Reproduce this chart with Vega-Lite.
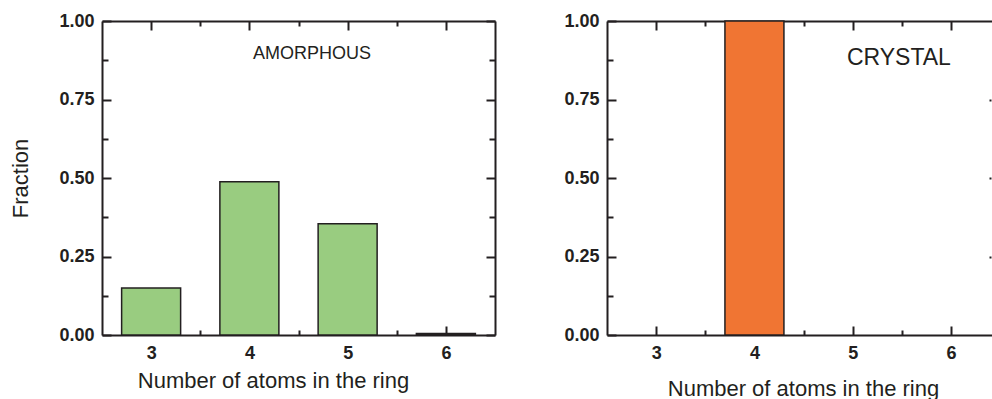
{
  "$schema": "https://vega.github.io/schema/vega-lite/v6.json",
  "padding": {"left": 9, "top": 12, "right": 0, "bottom": 0},
  "background": "white",
  "config": {
    "view": {"stroke": null},
    "font": "Liberation Sans",
    "scale": {"continuousPadding": 0},
    "axis": {
      "grid": false,
      "domainColor": "#231f20",
      "domainWidth": 2,
      "tickColor": "#231f20",
      "tickWidth": 2,
      "labelFont": "Liberation Sans",
      "labelFontWeight": "bold",
      "labelFontSize": 18,
      "labelColor": "#231f20",
      "titleFont": "Liberation Sans",
      "titleFontWeight": "normal",
      "titleFontSize": 22,
      "titleColor": "#231f20"
    }
  },
  "spacing": 67,
  "hconcat": [
    {
      "width": 393,
      "height": 314,
      "data": {"values": [
        {"n": 3, "fraction": 0.15},
        {"n": 4, "fraction": 0.488},
        {"n": 5, "fraction": 0.354},
        {"n": 6, "fraction": 0.005}
      ]},
      "resolve": {"axis": {"x": "independent", "y": "independent"}},
      "layer": [
        {
          "mark": {"type": "bar", "orient": "vertical", "size": 59, "fill": "#99cc80", "stroke": "#231f20", "strokeWidth": 1.5},
          "encoding": {
            "x": {"field": "n", "type": "quantitative", "scale": {"domain": [2.5, 6.5], "nice": false, "zero": false, "padding": 0},
              "axis": {"orient": "bottom", "values": [3, 4, 5, 6], "format": "d", "tickSize": -9, "labelPadding": 18, "title": "Number of atoms in the ring", "titlePadding": 8, "titleX": 171}},
            "y": {"field": "fraction", "type": "quantitative", "scale": {"domain": [0, 1], "nice": false},
              "axis": {"orient": "left", "values": [0, 0.25, 0.5, 0.75, 1], "format": ".2f", "tickSize": -9, "labelPadding": 17, "title": "Fraction", "titlePadding": 26}}
          }
        },
        {
          "data": {"values": [{"label": "AMORPHOUS", "x": 4.637, "y": 0.895}]},
          "mark": {"type": "text", "fontSize": 18, "font": "Liberation Sans", "color": "#231f20", "baseline": "middle", "align": "center"},
          "encoding": {
            "text": {"field": "label"},
            "x": {"field": "x", "type": "quantitative", "scale": {"domain": [2.5, 6.5], "nice": false, "zero": false, "padding": 0},
              "axis": {"orient": "top", "values": [3, 4, 5, 6], "tickSize": -9, "labels": false, "title": null}},
            "y": {"field": "y", "type": "quantitative", "scale": {"domain": [0, 1], "nice": false},
              "axis": {"orient": "right", "values": [0, 0.25, 0.5, 0.75, 1], "tickSize": -9, "labels": false, "title": null}}
          }
        },
        {
          "mark": {"type": "point", "opacity": 0},
          "encoding": {
            "x": {"field": "n", "type": "quantitative", "scale": {"domain": [2.5, 6.5], "nice": false, "zero": false, "padding": 0},
              "axis": {"orient": "bottom", "values": [3.5, 4.5, 5.5], "tickSize": -5, "labels": false, "domain": false, "title": null}},
            "y": {"field": "fraction", "type": "quantitative", "scale": {"domain": [0, 1], "nice": false},
              "axis": {"orient": "left", "values": [0.125, 0.375, 0.625, 0.875], "tickSize": -6, "labels": false, "domain": false, "title": null}}
          }
        },
        {
          "mark": {"type": "point", "opacity": 0},
          "encoding": {
            "x": {"field": "n", "type": "quantitative", "scale": {"domain": [2.5, 6.5], "nice": false, "zero": false, "padding": 0},
              "axis": {"orient": "top", "values": [3.5, 4.5, 5.5], "tickSize": -5, "labels": false, "domain": false, "title": null}},
            "y": {"field": "fraction", "type": "quantitative", "scale": {"domain": [0, 1], "nice": false},
              "axis": {"orient": "right", "values": [0.125, 0.375, 0.625, 0.875], "tickSize": -6, "labels": false, "domain": false, "title": null}}
          }
        }
      ]
    },
    {
      "width": 385,
      "height": 314,
      "data": {"values": [
        {"n": 4, "fraction": 1.0}
      ]},
      "resolve": {"axis": {"x": "independent", "y": "independent"}},
      "layer": [
        {
          "mark": {"type": "bar", "orient": "vertical", "size": 59, "fill": "#f07533", "stroke": "#231f20", "strokeWidth": 1.5},
          "encoding": {
            "x": {"field": "n", "type": "quantitative", "scale": {"domain": [2.5, 6.417], "nice": false, "zero": false, "padding": 0},
              "axis": {"orient": "bottom", "values": [3, 4, 5, 6], "format": "d", "tickSize": -9, "labelPadding": 18, "title": "Number of atoms in the ring", "titlePadding": 16, "titleX": 196}},
            "y": {"field": "fraction", "type": "quantitative", "scale": {"domain": [0, 1], "nice": false},
              "axis": {"orient": "left", "values": [0, 0.25, 0.5, 0.75, 1], "format": ".2f", "tickSize": -9, "labelPadding": 17, "title": null}}
          }
        },
        {
          "data": {"values": [{"label": "CRYSTAL", "x": 5.47, "y": 0.883}]},
          "mark": {"type": "text", "fontSize": 23, "font": "Liberation Sans", "color": "#231f20", "baseline": "middle", "align": "center"},
          "encoding": {
            "text": {"field": "label"},
            "x": {"field": "x", "type": "quantitative", "scale": {"domain": [2.5, 6.417], "nice": false, "zero": false, "padding": 0},
              "axis": {"orient": "top", "values": [3, 4, 5, 6], "tickSize": -9, "labels": false, "title": null}},
            "y": {"field": "y", "type": "quantitative", "scale": {"domain": [0, 1], "nice": false},
              "axis": {"orient": "right", "values": [0.25, 0.5, 0.75], "tickSize": -2, "offset": -1, "domain": false, "labels": false, "title": null}}
          }
        },
        {
          "mark": {"type": "point", "opacity": 0},
          "encoding": {
            "x": {"field": "n", "type": "quantitative", "scale": {"domain": [2.5, 6.417], "nice": false, "zero": false, "padding": 0},
              "axis": {"orient": "bottom", "values": [3.5, 4.5, 5.5], "tickSize": -5, "labels": false, "domain": false, "title": null}},
            "y": {"field": "fraction", "type": "quantitative", "scale": {"domain": [0, 1], "nice": false},
              "axis": {"orient": "left", "values": [0.125, 0.375, 0.625, 0.875], "tickSize": -6, "labels": false, "domain": false, "title": null}}
          }
        },
        {
          "mark": {"type": "point", "opacity": 0},
          "encoding": {
            "x": {"field": "n", "type": "quantitative", "scale": {"domain": [2.5, 6.417], "nice": false, "zero": false, "padding": 0},
              "axis": {"orient": "top", "values": [3.5, 4.5, 5.5], "tickSize": -5, "labels": false, "domain": false, "title": null}},
            "y": {"field": "fraction", "type": "quantitative", "scale": {"domain": [0, 1], "nice": false}, "axis": null}
          }
        }
      ]
    }
  ]
}
